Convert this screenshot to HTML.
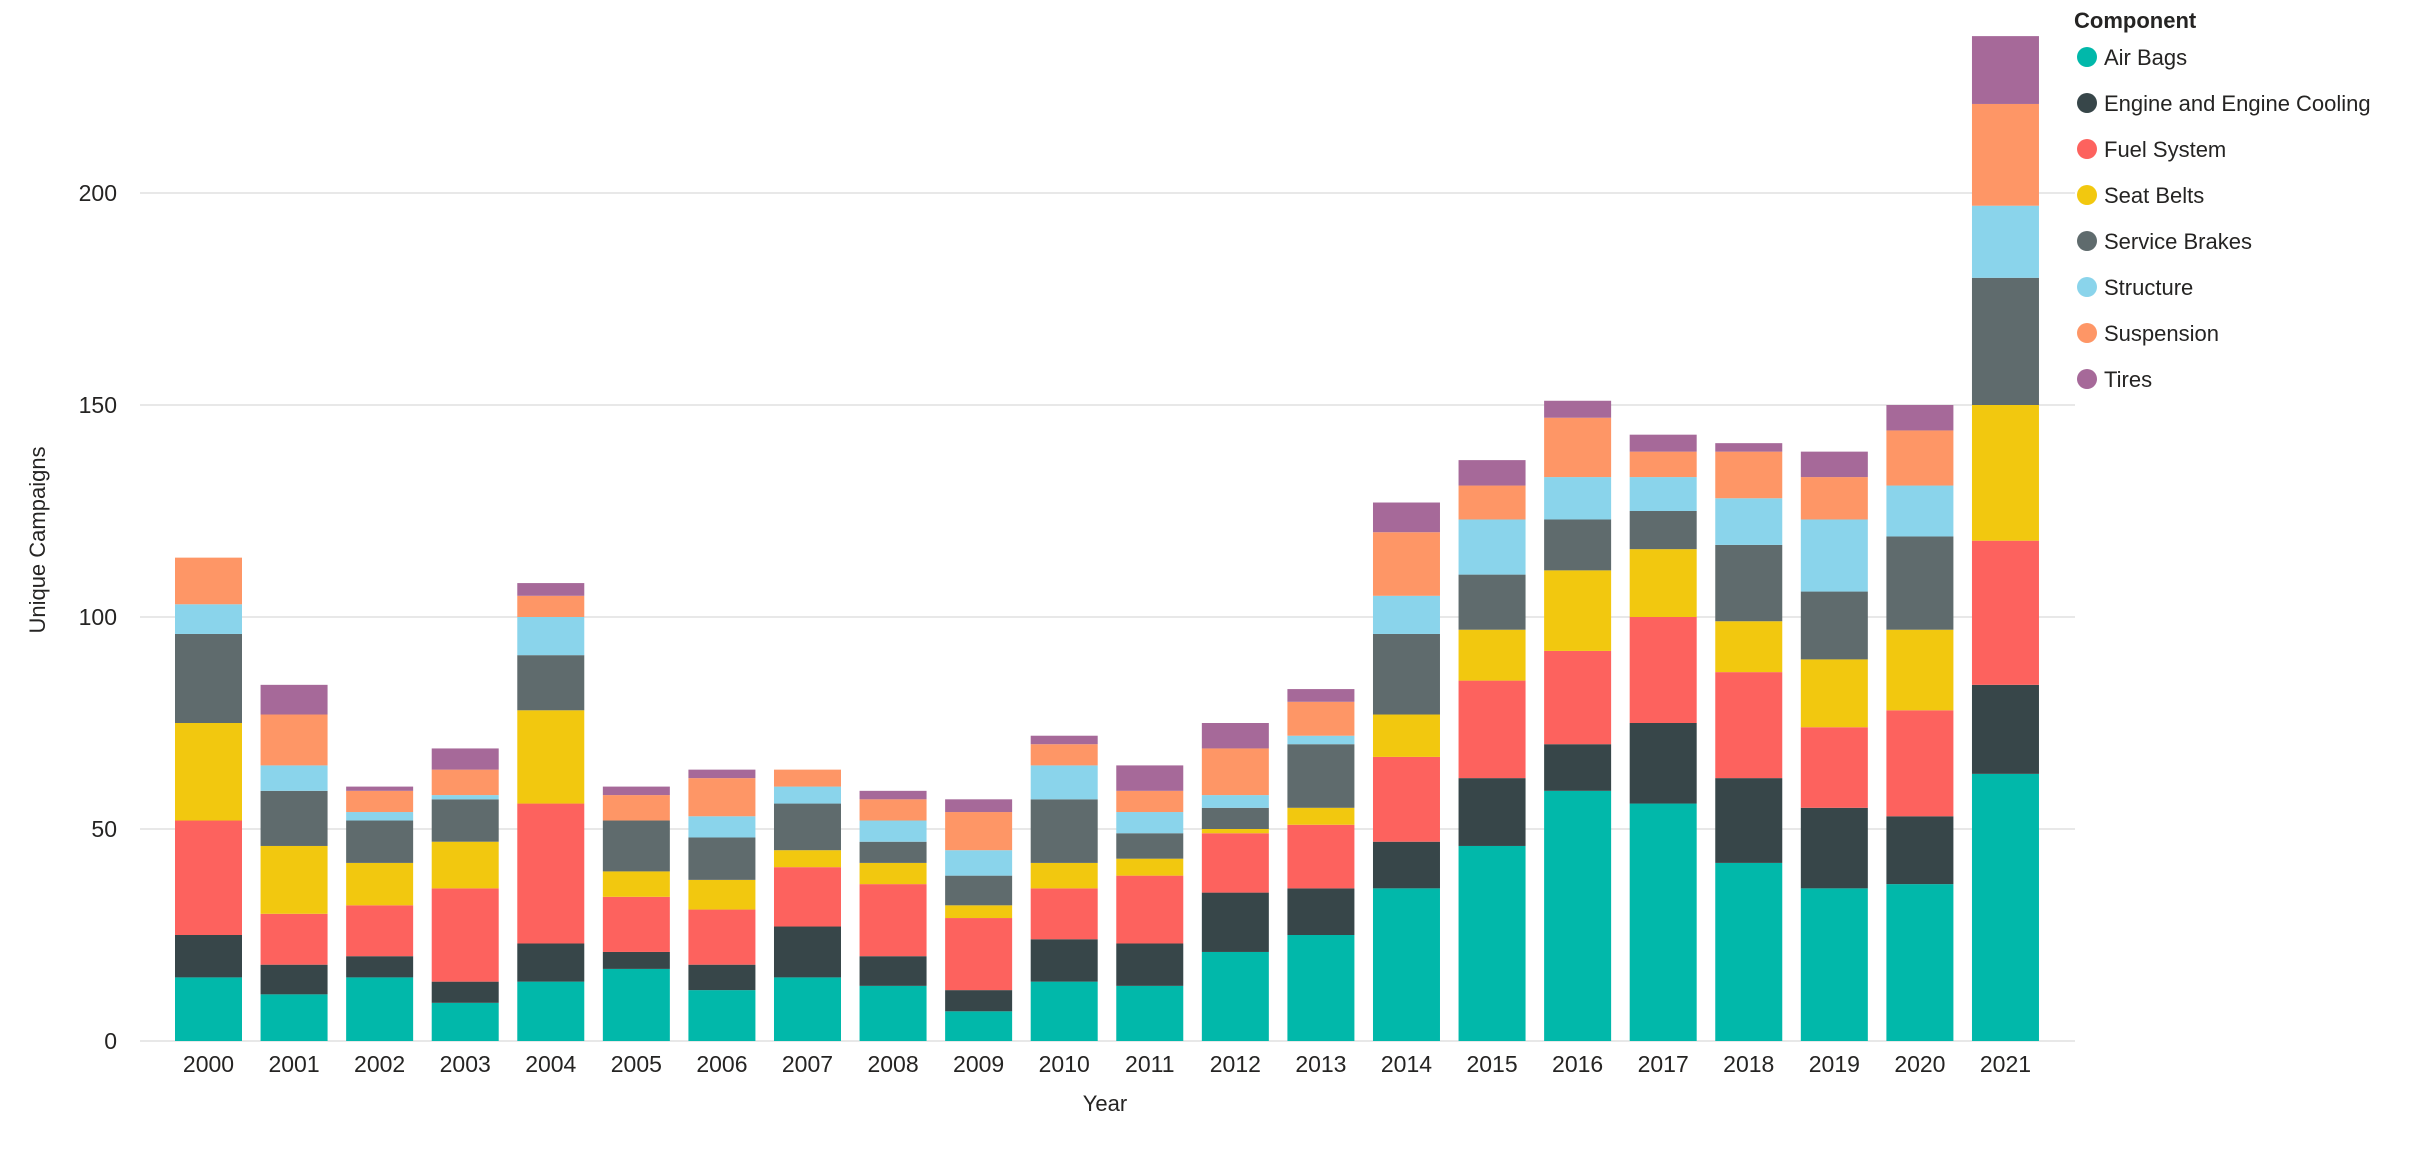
<!DOCTYPE html>
<html><head><meta charset="utf-8">
<style>
html,body{margin:0;padding:0;background:#fff;}
svg{display:block;font-family:"Liberation Sans","DejaVu Sans",sans-serif;}
</style></head>
<body>
<svg id="chart" width="2420" height="1150" viewBox="0 0 2420 1150" xmlns="http://www.w3.org/2000/svg">
  <g id="grid"></g>
  <g id="yticks"></g>
  <g id="bars"></g>
  <g id="xticks"></g>
  <text x="0" y="0" transform="translate(45,540) rotate(-90)" text-anchor="middle" font-size="22" fill="#252423">Unique Campaigns</text>
  <text x="1105" y="1111" text-anchor="middle" font-size="22" fill="#252423">Year</text>
  <g id="legend"></g>
</svg>
<script>
const years = ["2000","2001","2002","2003","2004","2005","2006","2007","2008","2009","2010","2011","2012","2013","2014","2015","2016","2017","2018","2019","2020","2021"];
const seriesNames = ["Air Bags","Engine and Engine Cooling","Fuel System","Seat Belts","Service Brakes","Structure","Suspension","Tires"];
const seriesColors = ["#01B8AA","#374649","#FD625E","#F2C80F","#5F6B6D","#8AD4EB","#FE9666","#A66999"];
const airBags   = [15,11,15,9,14,17,12,15,13,7,14,13,21,25,36,46,59,56,42,36,37,63];
const engine    = [10,7,5,5,9,4,6,12,7,5,10,10,14,11,11,16,11,19,20,19,16,21];
const fuel      = [27,12,12,22,33,13,13,14,17,17,12,16,14,15,20,23,22,25,25,19,25,34];
const seatBelts = [23,16,10,11,22,6,7,4,5,3,6,4,1,4,10,12,19,16,12,16,19,32];
const brakes    = [21,13,10,10,13,12,10,11,5,7,15,6,5,15,19,13,12,9,18,16,22,30];
const structure = [7,6,2,1,9,0,5,4,5,6,8,5,3,2,9,13,10,8,11,17,12,17];
const suspension= [11,12,5,6,5,6,9,4,5,9,5,5,11,8,15,8,14,6,11,10,13,24];
const tires     = [0,7,1,5,3,2,2,0,2,3,2,6,6,3,7,6,4,4,2,6,6,16];
const yTicks = [0,50,100,150,200];

const series = [airBags,engine,fuel,seatBelts,brakes,structure,suspension,tires];
const NS = "http://www.w3.org/2000/svg";
const plotLeft = 140, plotRight = 2075, y0px = 1041, pxPerUnit = 4.24;
const firstBarLeft = 175, step = 85.57, barW = 67;
function yScale(v){ return y0px - v * pxPerUnit; }
function xScale(i){ return firstBarLeft + i * step; }
function mk(tag, attrs, parent){ const e=document.createElementNS(NS,tag); for(const k in attrs) e.setAttribute(k,attrs[k]); parent.appendChild(e); return e; }

const grid=document.getElementById('grid'), yt=document.getElementById('yticks');
yTicks.forEach(t=>{
  const l=mk('line',{x1:plotLeft,x2:plotRight,y1:yScale(t),y2:yScale(t),stroke:'#e8e8e8','stroke-width':2},grid);
  
  
  const tx=mk('text',{x:117,y:yScale(t)+8,'text-anchor':'end','font-size':23,fill:'#252423'},yt);
  tx.textContent=t;
  
  
});

const bars=document.getElementById('bars'), xt=document.getElementById('xticks');
years.forEach((yr,i)=>{
  let cum=0;
  series.forEach((s,k)=>{
    const v=s[i]; if(v<=0){return;}
    const r=mk('rect',{x:xScale(i),y:yScale(cum+v),width:barW,height:v*pxPerUnit,fill:seriesColors[k]},bars);
    
    
    cum+=v;
  });
  const tx=mk('text',{x:xScale(i)+barW/2,y:1072,'text-anchor':'middle','font-size':23,fill:'#252423'},xt);
  tx.textContent=yr;
  
  
});

const lg=document.getElementById('legend');
const title=mk('text',{x:2074,y:28,'font-size':22,'font-weight':'bold',fill:'#252423'},lg);
title.textContent='Component';


seriesNames.forEach((n,k)=>{
  const cy=57+k*46;
  const g=mk('g',{},lg);
  
  
  mk('circle',{cx:2087,cy:cy,r:10,fill:seriesColors[k]},g);
  const t=mk('text',{x:2104,y:cy+8,'font-size':22,fill:'#252423'},g);
  t.textContent=n;
});
</script>
</body></html>
